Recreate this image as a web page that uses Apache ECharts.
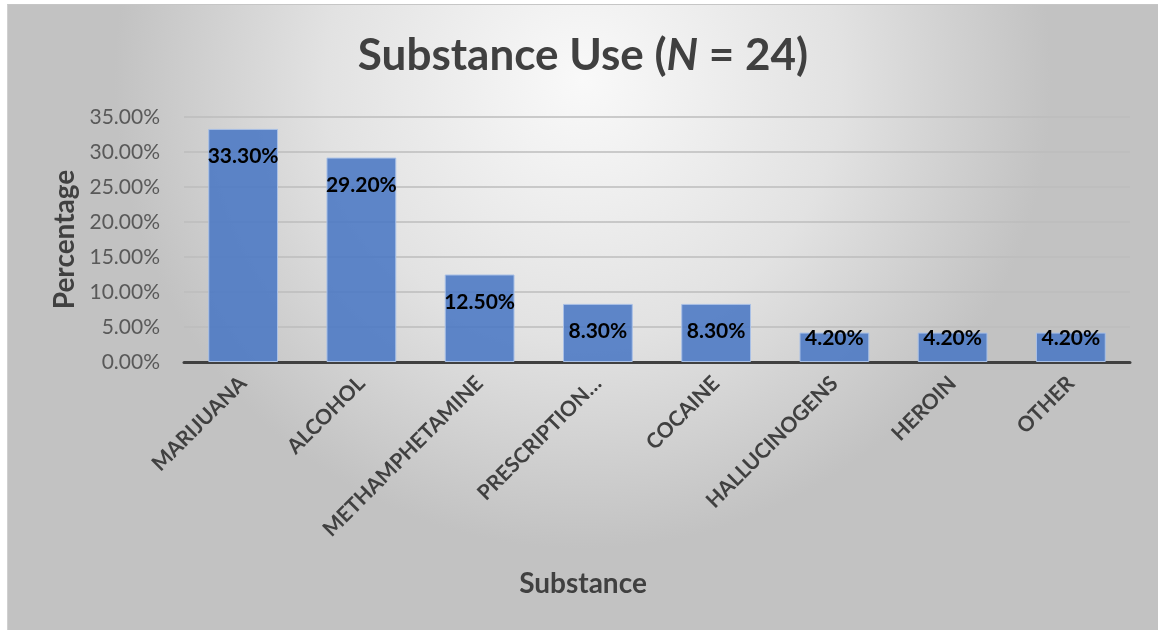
<!DOCTYPE html>
<html>
<head>
<meta charset="utf-8">
<script src="https://cdn.jsdelivr.net/npm/echarts@6/dist/echarts.min.js"></script>
<style>
  html, body { margin: 0; padding: 0; background: #ffffff; }
  #chart {
    position: absolute; left: 7px; top: 4px; width: 1151px; height: 626px;
    border-top: 1px solid #c6c6c6; border-left: 1px solid #d0d0d0; box-sizing: border-box;
  }
</style>
</head>
<body>
<div id="chart"></div>
<script>
// Share of participants reporting each substance (percent)
const categories = ['MARIJUANA', 'ALCOHOL', 'METHAMPHETAMINE', 'PRESCRIPTION…', 'COCAINE', 'HALLUCINOGENS', 'HEROIN', 'OTHER'];
const percentages = [33.3, 29.2, 12.5, 8.3, 8.3, 4.2, 4.2, 4.2];
const axisMin = 0;
const axisMax = 35;
const axisStep = 5;

const FONT = 'Lato, "Open Sans", sans-serif';
const DARK = '#404040';

const chart = echarts.init(document.getElementById('chart'));

// Short bars keep their value label hugging the bar top
const barData = percentages.map(v => v < 5
  ? { value: v, label: { position: 'insideTop', distance: -5 } }
  : { value: v });

chart.setOption({
  backgroundColor: {
    type: 'radial', x: 0.5, y: 0.12, r: 0.75,
    colorStops: [
      { offset: 0, color: '#f9f9f9' },
      { offset: 0.55, color: '#e2e2e2' },
      { offset: 1, color: '#c2c2c2' }
    ]
  },
  title: [{
    text: '{a|Substance Use (}{i|N}{a| = 24)}',
    left: 'center',
    top: 24,
    textStyle: {
      rich: {
        a: { fontFamily: FONT, fontSize: 44, fontWeight: 'bold', color: DARK },
        i: { fontFamily: FONT, fontSize: 44, fontWeight: 'bold', fontStyle: 'italic', color: DARK }
      }
    }
  }, {
    // category axis title, centred on the whole chart
    text: 'Substance',
    left: 'center',
    top: 560,
    textStyle: { fontFamily: FONT, fontSize: 28, fontWeight: 'bold', color: DARK }
  }],
  grid: { left: 176, right: 28, top: 112, bottom: 268 },
  xAxis: {
    type: 'category',
    data: categories,
    axisLine: { lineStyle: { color: DARK, width: 3 } },
    axisTick: { show: false },
    axisLabel: {
      rotate: 45, interval: 0, margin: 18,
      fontFamily: FONT, fontSize: 21, fontWeight: 'bold', color: DARK
    }
  },
  yAxis: {
    type: 'value',
    min: axisMin, max: axisMax, interval: axisStep,
    name: 'Percentage',
    nameLocation: 'middle',
    nameGap: 104,
    nameTextStyle: { fontFamily: FONT, fontSize: 28, fontWeight: 'bold', color: DARK },
    axisLine: { show: false },
    axisTick: { show: false },
    axisLabel: {
      margin: 24,
      fontFamily: FONT, fontSize: 21, color: '#595959',
      formatter: v => v.toFixed(2) + '%'
    },
    splitLine: { lineStyle: { color: '#bdbdbd', width: 1.5 } }
  },
  series: [{
    type: 'bar',
    data: barData,
    barWidth: '59%',
    itemStyle: { color: 'rgba(74,119,196,0.88)', borderColor: '#a9c0e6', borderWidth: 1 },
    label: {
      show: true,
      position: 'insideTop',
      distance: 17,
      fontFamily: FONT, fontSize: 21, fontWeight: 'bold', color: '#000000',
      formatter: p => p.value.toFixed(2) + '%'
    }
  }]
});
</script>
</body>
</html>
